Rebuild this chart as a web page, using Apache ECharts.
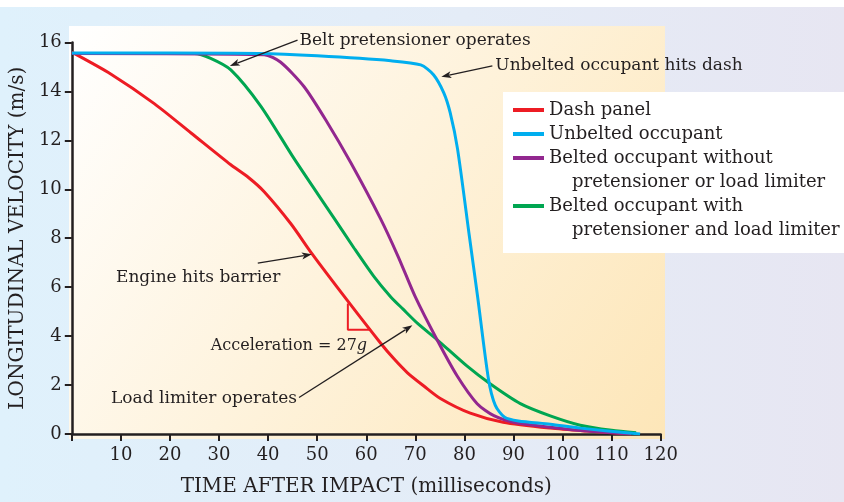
<!DOCTYPE html>
<html>
<head>
<meta charset="utf-8">
<script src="https://cdn.jsdelivr.net/npm/echarts@6/dist/echarts.min.js"></script>
<style>
  html, body { margin: 0; padding: 0; background: #fff; }
  #main { width: 844px; height: 502px; }
</style>
</head>
<body>
<div id="main"></div>
<script>
// values: [time ms, velocity m/s]
var dashPanel = [[0,15.6],[8,14.7],[16.8,13.5],[24.3,12.3],[32.4,11.0],[36,10.48],[39.2,9.9],[44.6,8.6],[49,7.35],
  [56.1,5.47],[62.9,3.72],[65.6,3.08],[68.4,2.5],[71.8,1.95],[75.1,1.45],[81.2,0.85],[87.9,0.48],[97.5,0.24],
  [105,0.12],[114,0]];
var unbelted = [[0,15.57],[20,15.57],[38,15.55],[50,15.45],[65,15.25],[71.1,15.08],[73.7,14.68],[75.8,13.94],
  [77.1,13.13],[78.6,11.65],[81.0,8.1],[82.7,5.6],[84.9,2.25],[86.3,1.17],[88.2,0.68],[91,0.53],[97.5,0.4],
  [103.6,0.24],[115.8,0]];
var beltedPlain = [[0,15.55],[39.2,15.5],[42.5,15.2],[47.3,14.2],[52,12.75],[56.8,11.1],[62.9,8.8],
  [66.5,7.25],[70,5.6],[74.4,3.86],[78.5,2.38],[82.6,1.24],[86,0.75],[90.5,0.46],[97.5,0.28],[105,0.12],[114,0]];
var beltedLimiter = [[0,15.55],[25,15.55],[28.3,15.35],[32.4,14.88],[38.5,13.4],[45.3,11.25],[53.4,8.83],
  [57.5,7.6],[61.5,6.45],[65,5.6],[67.5,5.1],[70.4,4.53],[74.4,3.86],[80.5,2.78],[85.3,2.04],[91.4,1.24],
  [97.5,0.74],[103.6,0.36],[110,0.15],[115,0.05]];
var accelTriangle = [[56.25,5.33],[56.25,4.26],[60.9,4.26]];

var seriesNames = ['Dash panel', 'Unbelted occupant', 'Belted occupant without', 'Belted occupant with'];
var xTicks = [10, 20, 30, 40, 50, 60, 70, 80, 90, 100, 110, 120];
var yTicks = [0, 2, 4, 6, 8, 10, 12, 14, 16];

// annotation arrows in data coords: [tail, head]
var arrows = [
  [[46.0, 16.09], [32.2, 15.04]],
  [[85.7, 15.04], [75.3, 14.6]],
  [[37.9, 6.98], [48.9, 7.34]],
  [[46.3, 1.49], [69.4, 4.44]]
];

var serif = 'DejaVu Serif';
var ink = '#231f20';

var chart = echarts.init(document.getElementById('main'));

function lineSeries(name, data, color) {
  return {
    name: name, type: 'line', data: data, smooth: 0.25, symbol: 'none',
    lineStyle: { color: color, width: 3 }, itemStyle: { color: color }
  };
}

chart.setOption({
  animation: false,
  grid: { left: 70.8, right: 183.3, top: 42.4, bottom: 63 },
  legend: [
    {
      data: seriesNames.slice(0, 3), orient: 'vertical', left: 513, top: 98, padding: 0,
      itemGap: 0, itemWidth: 31, itemHeight: 4, icon: 'rect',
      textStyle: { fontFamily: serif, fontSize: 18, color: ink, lineHeight: 24 }
    },
    {
      data: [seriesNames[3]], orient: 'vertical', left: 513, top: 194, padding: 0,
      itemGap: 0, itemWidth: 31, itemHeight: 4, icon: 'rect',
      textStyle: { fontFamily: serif, fontSize: 18, color: ink, lineHeight: 24 }
    }
  ],
  xAxis: {
    type: 'value', min: 0, max: 120, interval: 10,
    name: 'TIME AFTER IMPACT (milliseconds)', nameLocation: 'middle', nameGap: 43,
    nameTextStyle: { fontFamily: serif, fontSize: 20, color: ink },
    axisLine: { lineStyle: { color: ink, width: 2.5 } },
    axisTick: { length: 7, lineStyle: { color: ink, width: 2 } },
    axisLabel: {
      fontFamily: serif, fontSize: 18, color: ink, margin: 12,
      formatter: function (v) { return xTicks.indexOf(v) >= 0 ? String(v) : ''; }
    },
    splitLine: { show: false }
  },
  yAxis: {
    type: 'value', min: 0, max: 16, interval: 2,
    name: 'LONGITUDINAL VELOCITY (m/s)', nameLocation: 'middle', nameGap: 41,
    nameTextStyle: { fontFamily: serif, fontSize: 20, color: ink },
    axisLine: { show: true, lineStyle: { color: ink, width: 2.5 } },
    axisTick: { show: true, length: 7, lineStyle: { color: ink, width: 2 } },
    axisLabel: {
      fontFamily: serif, fontSize: 18, color: ink, margin: 10,
      formatter: function (v) { return yTicks.indexOf(v) >= 0 ? String(v) : ''; }
    },
    splitLine: { show: false }
  },
  series: [
    lineSeries(seriesNames[3], beltedLimiter, '#00a651'),
    lineSeries(seriesNames[0], dashPanel, '#ed1c24'),
    lineSeries(seriesNames[2], beltedPlain, '#92278f'),
    lineSeries(seriesNames[1], unbelted, '#00aeef'),
    {
      type: 'line', data: accelTriangle, symbol: 'none', silent: true,
      lineStyle: { color: '#ed1c24', width: 2 }
    }
  ]
});

function px(p) { return chart.convertToPixel({ gridIndex: 0 }, p); }

function note(text, p, extra) {
  var q = px(p);
  return {
    type: 'text', x: q[0], y: q[1], z: 100, silent: true,
    style: Object.assign({
      text: text, fill: ink, font: '17px "' + serif + '"', verticalAlign: 'middle', align: 'left'
    }, extra || {})
  };
}

function arrow(a) {
  var s = px(a[0]), e = px(a[1]);
  var dx = e[0] - s[0], dy = e[1] - s[1];
  var len = Math.sqrt(dx * dx + dy * dy);
  var ux = dx / len, uy = dy / len;
  var hl = 10, hw = 3.5;
  var bx = e[0] - ux * hl, by = e[1] - uy * hl;
  return [
    { type: 'line', z: 100, silent: true,
      shape: { x1: s[0], y1: s[1], x2: bx + ux * 2, y2: by + uy * 2 },
      style: { stroke: ink, lineWidth: 1.3 } },
    { type: 'polygon', z: 100, silent: true,
      shape: { points: [[e[0], e[1]], [bx - uy * hw, by + ux * hw], [bx + ux * 2.5, by + uy * 2.5], [bx + uy * hw, by - ux * hw]] },
      style: { fill: ink } }
  ];
}

var graphics = [
  {
    type: 'rect', z: -10, silent: true, shape: { x: 0, y: 7, width: 844, height: 495 },
    style: { fill: new echarts.graphic.LinearGradient(0, 0, 1, 0, [
      { offset: 0, color: '#dff1fc' }, { offset: 0.55, color: '#e4ecf7' }, { offset: 1, color: '#e7e6f2' }
    ]) }
  },
  {
    type: 'rect', z: -9, silent: true,
    shape: { x: 69, y: 26, width: 596, height: 413 },
    style: { fill: new echarts.graphic.LinearGradient(0, 0, 1, 1, [
      { offset: 0, color: '#ffffff' }, { offset: 1, color: '#fde6b8' }
    ]) }
  },
  {
    type: 'rect', z: -8, silent: true,
    shape: { x: 503, y: 92, width: 341, height: 161 },
    style: { fill: '#ffffff' }
  },
  {
    type: 'text', x: 572, y: 182, z: 100, silent: true,
    style: { text: 'pretensioner or load limiter', fill: ink, font: '18px "' + serif + '"', verticalAlign: 'middle' }
  },
  {
    type: 'text', x: 572, y: 230, z: 100, silent: true,
    style: { text: 'pretensioner and load limiter', fill: ink, font: '18px "' + serif + '"', verticalAlign: 'middle' }
  },
  note('Belt pretensioner operates', [46.4, 16.09]),
  note('Unbelted occupant hits dash', [86.3, 15.04]),
  note('Engine hits barrier', [9.0, 6.4]),
  note('Load limiter operates', [8.0, 1.45]),
  note('{n|Acceleration = 27}{i|g}', [28.3, 3.62], {
    rich: {
      n: { fontFamily: serif, fontSize: 16, fill: ink },
      i: { fontFamily: serif, fontSize: 16, fontStyle: 'italic', fill: ink }
    }
  })
];
arrows.forEach(function (a) { graphics = graphics.concat(arrow(a)); });

chart.setOption({ graphic: graphics });
</script>
</body>
</html>
